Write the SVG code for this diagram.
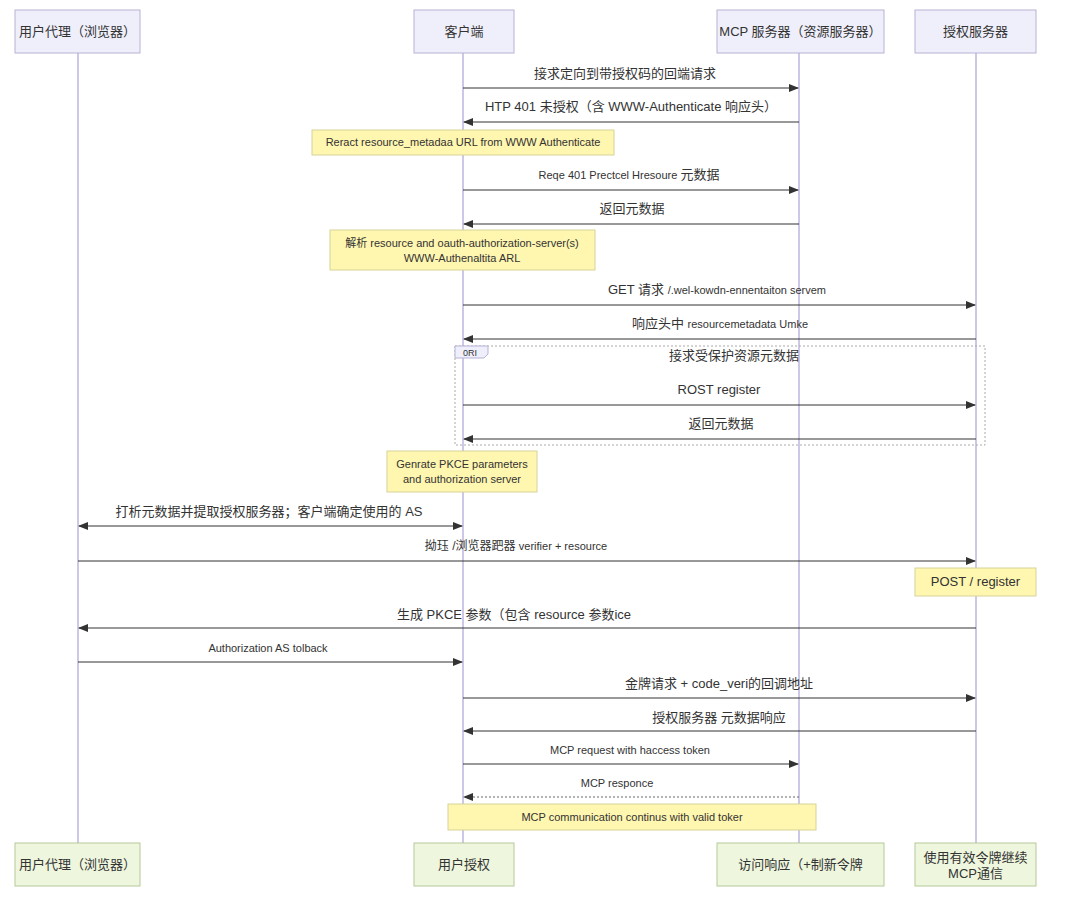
<svg xmlns="http://www.w3.org/2000/svg" width="1091" height="918" viewBox="0 0 1091 918">
<defs>
<marker id="ah" markerWidth="10" markerHeight="8" refX="9" refY="4" orient="auto" markerUnits="userSpaceOnUse"><path d="M0,0 L10,4 L0,8 z" fill="#333"/></marker>
<marker id="as" markerWidth="10" markerHeight="8" refX="1" refY="4" orient="auto" markerUnits="userSpaceOnUse"><path d="M10,0 L0,4 L10,8 z" fill="#333"/></marker>
</defs>
<style>
text{font-family:"Liberation Sans","Noto Sans CJK SC",sans-serif;fill:#333;}
.actor{fill:#efeffb;stroke:#b7b2d6;stroke-width:1;}
.actorb{fill:#eef6dd;stroke:#b6c99a;stroke-width:1;}
.at{font-size:13px;text-anchor:middle;}
.life{stroke:#9d8fcb;stroke-width:1;}
.msg{stroke:#333;stroke-width:1;fill:none;marker-end:url(#ah);}
.dash{stroke-dasharray:2,2;stroke:#666;}
.ml{font-size:13px;text-anchor:middle;}
.note{fill:#fff6b0;stroke:#d6d39a;stroke-width:1;}
.nt{font-size:11px;text-anchor:middle;}
</style>
<rect width="1091" height="918" fill="#ffffff"/>
<g id="lifelines">
<line class="life" x1="78" y1="53" x2="78" y2="843"/>
<line class="life" x1="463" y1="53" x2="463" y2="843"/>
<line class="life" x1="799" y1="53" x2="799" y2="843"/>
<line class="life" x1="976" y1="53" x2="976" y2="843"/>
</g>
<g id="actor-ua"><rect class="actor" x="15" y="10" width="125" height="43"/><text class="at" x="77.5" y="36">用户代理（浏览器）</text></g>
<g id="actor-client"><rect class="actor" x="414" y="10" width="100" height="43"/><text class="at" x="464" y="36">客户端</text></g>
<g id="actor-mcp"><rect class="actor" x="717" y="10" width="167" height="43"/><text class="at" x="800.5" y="36">MCP 服务器（资源服务器）</text></g>
<g id="actor-as"><rect class="actor" x="915" y="10" width="121" height="43"/><text class="at" x="975.5" y="36">授权服务器</text></g>
<g id="opt-frame">
<rect x="455" y="346" width="530" height="99" fill="none" stroke="#aaa" stroke-dasharray="2,2"/>
<path d="M455,346 H488 V354 L484,358 H455 z" fill="#efeffb" stroke="#b7b2d6"/>
<text x="470" y="355.5" font-size="9" text-anchor="middle">0RI</text>
<text class="ml" x="734" y="360">接求受保护资源元数据</text>
</g>
<g id="connectors">
<line class="msg" x1="463" y1="88" x2="798" y2="88"/>
<text class="ml" x="625" y="78">接求定向到带授权码的回端请求</text>
<line class="msg" x1="799" y1="122" x2="464" y2="122"/>
<text class="ml" x="631" y="111">HTP 401 未授权（含 WWW-Authenticate 响应头）</text>
<line class="msg" x1="463" y1="190" x2="798" y2="190"/>
<text x="629" y="179" font-size="11" text-anchor="middle">Reqe 401 Prectcel Hresoure <tspan font-size="13">元数据</tspan></text>
<line class="msg" x1="799" y1="224" x2="464" y2="224"/>
<text class="ml" x="632" y="213">返回元数据</text>
<line class="msg" x1="463" y1="305" x2="975" y2="305"/>
<text x="717" y="294" font-size="11" text-anchor="middle"><tspan font-size="13">GET 请求 </tspan>/.wel-kowdn-ennentaiton servem</text>
<line class="msg" x1="976" y1="339" x2="464" y2="339"/>
<text x="720" y="328" font-size="11" text-anchor="middle"><tspan font-size="13">响应头中 </tspan>resourcemetadata Umke</text>
<line class="msg" x1="463" y1="405" x2="975" y2="405"/>
<text class="ml" x="719" y="394" font-size="12">ROST register</text>
<line class="msg" x1="976" y1="439" x2="464" y2="439"/>
<text class="ml" x="721" y="428">返回元数据</text>
<line class="msg" x1="79" y1="526" x2="462" y2="526" marker-start="url(#as)"/>
<text class="ml" x="269" y="516">打析元数据并提取授权服务器；客户端确定使用的 AS</text>
<line class="msg" x1="78" y1="561" x2="975" y2="561"/>
<text x="516" y="550" font-size="11" text-anchor="middle"><tspan font-size="12">拗珏 /浏览器跁器 </tspan>verifier + resource</text>
<line class="msg" x1="976" y1="628" x2="79" y2="628"/>
<text class="ml" x="514" y="619">生成 PKCE 参数（包含 resource 参数ice</text>
<line class="msg" x1="78" y1="662" x2="462" y2="662"/>
<text x="268" y="652" font-size="11" text-anchor="middle">Authorization AS tolback</text>
<line class="msg" x1="463" y1="698" x2="975" y2="698"/>
<text class="ml" x="719" y="688">金牌请求 + code_veri的回调地址</text>
<line class="msg" x1="976" y1="731" x2="464" y2="731"/>
<text class="ml" x="719" y="722">授权服务器 元数据响应</text>
<line class="msg" x1="463" y1="764" x2="798" y2="764"/>
<text x="630" y="754" font-size="11" text-anchor="middle">MCP request with haccess token</text>
<line class="msg dash" x1="799" y1="797" x2="464" y2="797"/>
<text x="617" y="787" font-size="11" text-anchor="middle">MCP responce</text>
</g>
<g id="note-1"><rect class="note" x="312" y="130" width="302" height="25"/><text class="nt" x="463" y="146">Reract resource_metadaa URL from WWW Authenticate</text></g>
<g id="note-2"><rect class="note" x="330" y="230" width="265" height="40"/><text class="nt" x="462" y="247">解析 resource and oauth-authorization-server(s)</text><text class="nt" x="462" y="262">WWW-Authenaltita ARL</text></g>
<g id="note-3"><rect class="note" x="387" y="451" width="150" height="41"/><text class="nt" x="462" y="468">Genrate PKCE parameters</text><text class="nt" x="462" y="483">and authorization server</text></g>
<g id="note-4"><rect class="note" x="915" y="568" width="121" height="28"/><text class="ml" x="975.5" y="586" font-size="12">POST / register</text></g>
<g id="note-5"><rect class="note" x="448" y="804" width="368" height="26"/><text class="nt" x="632" y="821">MCP communication continus with valid toker</text></g>
<g id="bottom-ua"><rect class="actorb" x="15" y="843" width="125" height="43"/><text class="at" x="77.5" y="869">用户代理（浏览器）</text></g>
<g id="bottom-client"><rect class="actorb" x="414" y="843" width="100" height="43"/><text class="at" x="464" y="869">用户授权</text></g>
<g id="bottom-mcp"><rect class="actorb" x="717" y="843" width="167" height="43"/><text class="at" x="800.5" y="869">访问响应（+制新令牌</text></g>
<g id="bottom-as"><rect class="actorb" x="915" y="843" width="121" height="43"/><text class="at" x="975.5" y="862" font-size="12">使用有效令牌继续</text><text class="at" x="975.5" y="878" font-size="12">MCP通信</text></g>
</svg>
